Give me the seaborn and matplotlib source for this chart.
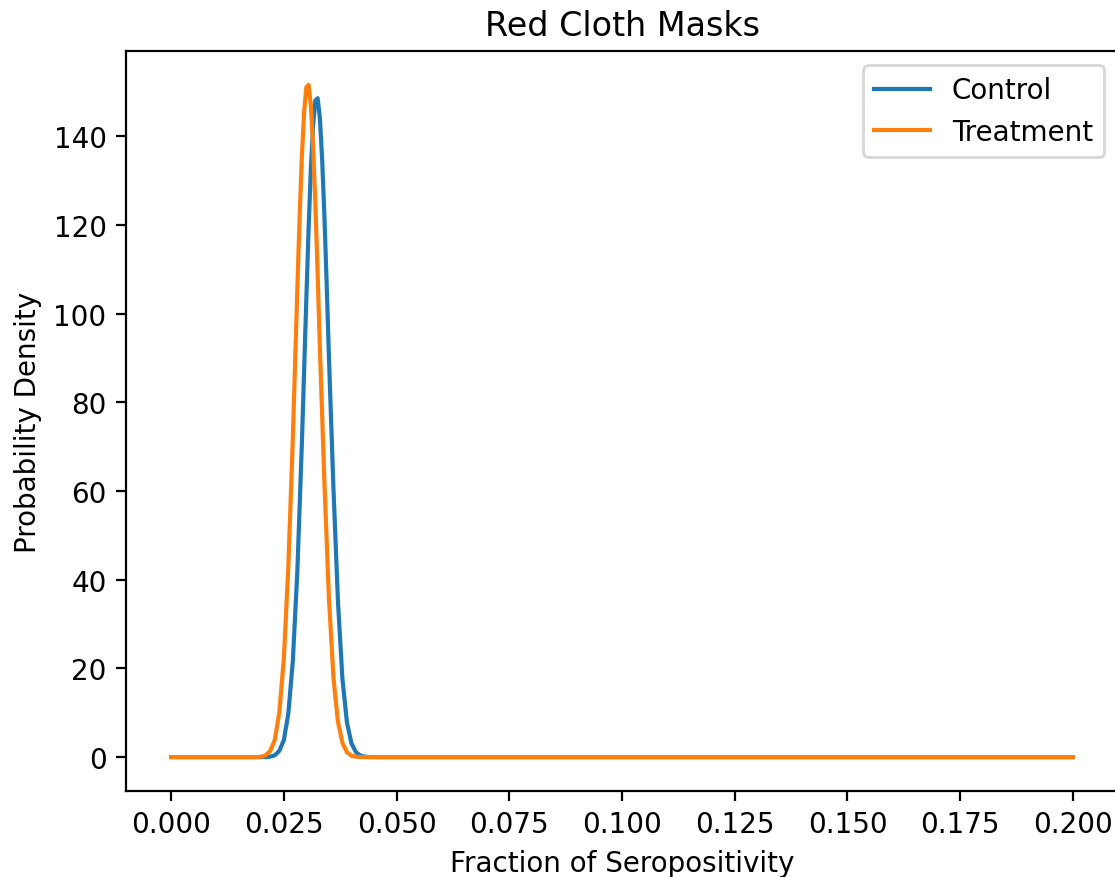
import pandas as pd
import seaborn as sns
import matplotlib
matplotlib.use("Agg")
import matplotlib.pyplot as plt

# Control curve
control_x = [0.000, 0.021, 0.022, 0.023, 0.024, 0.025, 0.026, 0.027, 0.028, 0.029,
             0.030, 0.0305, 0.031, 0.0315, 0.032, 0.0325, 0.033, 0.0335, 0.034, 0.0345,
             0.035, 0.036, 0.037, 0.038, 0.039, 0.040, 0.041, 0.042, 0.043, 0.044, 0.200]
control_y = [0.0, 0.0, 0.1, 0.4, 1.4, 3.8, 9.8, 21.7, 41.9, 70.6,
             103.6, 119.3, 132.7, 142.6, 148.1, 148.6, 144.1, 134.9, 122.1, 106.9,
             90.4, 60.8, 35.3, 17.6, 7.8, 3.1, 1.1, 0.3, 0.1, 0.0, 0.0]

# Treatment curve
treatment_x = [0.000, 0.019, 0.020, 0.021, 0.022, 0.023, 0.024, 0.025, 0.026, 0.027,
               0.028, 0.0285, 0.029, 0.0295, 0.030, 0.0305, 0.031, 0.0315, 0.032, 0.0325,
               0.033, 0.034, 0.035, 0.036, 0.037, 0.038, 0.039, 0.040, 0.041, 0.042, 0.200]
treatment_y = [0.0, 0.0, 0.1, 0.4, 1.4, 3.9, 10.0, 22.1, 42.8, 72.0,
               105.7, 121.7, 135.4, 145.5, 151.1, 151.6, 147.0, 137.7, 124.6, 109.1,
               92.2, 62.0, 36.0, 18.0, 8.0, 3.2, 1.1, 0.3, 0.1, 0.0, 0.0]

control = pd.DataFrame({"x": control_x, "density": control_y})
treatment = pd.DataFrame({"x": treatment_x, "density": treatment_y})

fig = plt.figure(figsize=(5.575, 4.39), dpi=200)
ax = fig.add_axes([0.1130, 0.0983, 0.8897, 0.8421])

sns.lineplot(data=control, x="x", y="density", ax=ax, color="tab:blue", label="Control")
sns.lineplot(data=treatment, x="x", y="density", ax=ax, color="tab:orange", label="Treatment")

ax.set_title("Red Cloth Masks")
ax.set_xlabel("Fraction of Seropositivity")
ax.set_ylabel("Probability Density")
ax.legend(loc="upper right")

fig.savefig("out.png", dpi=200)
